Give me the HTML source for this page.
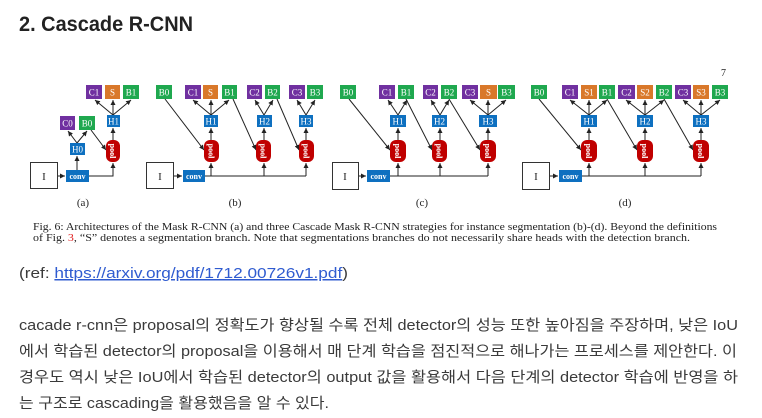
<!DOCTYPE html>
<html><head><meta charset="utf-8">
<style>
html,body{margin:0;padding:0;background:#fff;width:762px;height:418px;overflow:hidden}
svg{display:block}
.b{font-family:"Liberation Serif",serif;font-size:9px;fill:#fff;text-anchor:middle}
.p{font-family:"Liberation Serif",serif;font-size:8px;fill:#fff;text-anchor:middle;font-weight:bold}
.k{font-family:"Liberation Sans","Noto Sans CJK KR",sans-serif;font-size:15px;fill:#3a3a3a}
</style></head><body>
<svg width="762" height="418" viewBox="0 0 762 418" xmlns="http://www.w3.org/2000/svg">
<defs><marker id="a" markerWidth="6" markerHeight="6" refX="5" refY="3" orient="auto" markerUnits="userSpaceOnUse"><path d="M0,0.5 L5,3 L0,5.5z" fill="#222"/></marker></defs>
<text x="19" y="31" font-family="Liberation Sans,sans-serif" font-weight="bold" font-size="21" fill="#222" textLength="174" lengthAdjust="spacingAndGlyphs">2. Cascade R-CNN</text>
<text x="721" y="76" font-family="Liberation Serif,serif" font-size="10" fill="#222">7</text>
<g stroke="#222" stroke-width="1" fill="none" marker-end="url(#a)">
<line x1="57" y1="176" x2="65" y2="176"/>
<polyline points="89,176 113,176 113,163"/>
<line x1="77" y1="170" x2="77" y2="156"/>
<line x1="77" y1="143" x2="68" y2="131"/><line x1="77" y1="143" x2="87" y2="131"/>
<line x1="91" y1="130" x2="106" y2="150"/>
<line x1="113" y1="140" x2="113" y2="128"/>
<line x1="113" y1="115" x2="95" y2="100"/><line x1="113" y1="115" x2="113" y2="100"/><line x1="113" y1="115" x2="131" y2="100"/>
<line x1="173" y1="176" x2="182" y2="176"/>
<line x1="205" y1="176" x2="306" y2="176" marker-end="none"/>
<line x1="211" y1="176" x2="211" y2="163"/><line x1="264" y1="176" x2="264" y2="163"/><line x1="306" y1="176" x2="306" y2="163"/>
<line x1="165" y1="99" x2="204" y2="150"/><line x1="233" y1="99" x2="256" y2="150"/><line x1="277" y1="99" x2="299" y2="150"/>
<line x1="211" y1="140" x2="211" y2="128"/><line x1="264" y1="140" x2="264" y2="128"/><line x1="306" y1="140" x2="306" y2="128"/>
<line x1="211" y1="115" x2="193" y2="100"/><line x1="211" y1="115" x2="211" y2="100"/><line x1="211" y1="115" x2="229" y2="100"/>
<line x1="264" y1="115" x2="255" y2="100"/><line x1="264" y1="115" x2="273" y2="100"/>
<line x1="306" y1="115" x2="297" y2="100"/><line x1="306" y1="115" x2="315" y2="100"/>
<line x1="358" y1="176" x2="366" y2="176"/>
<line x1="390" y1="176" x2="488" y2="176" marker-end="none"/>
<line x1="398" y1="176" x2="398" y2="163"/><line x1="440" y1="176" x2="440" y2="163"/><line x1="488" y1="176" x2="488" y2="163"/>
<line x1="349" y1="99" x2="390" y2="150"/><line x1="406" y1="99" x2="432" y2="150"/><line x1="449" y1="99" x2="480" y2="150"/>
<line x1="398" y1="140" x2="398" y2="128"/><line x1="440" y1="140" x2="440" y2="128"/><line x1="488" y1="140" x2="488" y2="128"/>
<line x1="398" y1="115" x2="388" y2="100"/><line x1="398" y1="115" x2="407" y2="100"/>
<line x1="440" y1="115" x2="431" y2="100"/><line x1="440" y1="115" x2="449" y2="100"/>
<line x1="488" y1="115" x2="470" y2="100"/><line x1="488" y1="115" x2="488" y2="100"/><line x1="488" y1="115" x2="506" y2="100"/>
<line x1="549" y1="176" x2="558" y2="176"/>
<line x1="582" y1="176" x2="701" y2="176" marker-end="none"/>
<line x1="589" y1="176" x2="589" y2="163"/><line x1="645" y1="176" x2="645" y2="163"/><line x1="701" y1="176" x2="701" y2="163"/>
<line x1="539" y1="99" x2="581" y2="150"/><line x1="607" y1="99" x2="637" y2="150"/><line x1="664" y1="99" x2="693" y2="150"/>
<line x1="589" y1="140" x2="589" y2="128"/><line x1="645" y1="140" x2="645" y2="128"/><line x1="701" y1="140" x2="701" y2="128"/>
<line x1="589" y1="115" x2="570" y2="100"/><line x1="589" y1="115" x2="589" y2="100"/><line x1="589" y1="115" x2="607" y2="100"/>
<line x1="645" y1="115" x2="626" y2="100"/><line x1="645" y1="115" x2="645" y2="100"/><line x1="645" y1="115" x2="664" y2="100"/>
<line x1="701" y1="115" x2="683" y2="100"/><line x1="701" y1="115" x2="701" y2="100"/><line x1="701" y1="115" x2="720" y2="100"/>
</g>
<g fill="#fff" stroke="#333" stroke-width="1">
<rect x="30.5" y="162.5" width="27" height="26"/><rect x="146.5" y="162.5" width="27" height="26"/>
<rect x="332.5" y="162.5" width="26" height="27"/><rect x="522.5" y="162.5" width="27" height="27"/>
</g>
<g font-family="Liberation Serif,serif" font-size="11" fill="#222" text-anchor="middle">
<text x="44" y="180">I</text><text x="160" y="180">I</text><text x="345" y="180">I</text><text x="536" y="180">I</text>
<text x="83" y="206">(a)</text><text x="235" y="206">(b)</text><text x="422" y="206">(c)</text><text x="625" y="206">(d)</text>
</g>
<g fill="#0e70c0"><rect x="66" y="170" width="23" height="12"/><rect x="183" y="170" width="22" height="12"/><rect x="367" y="170" width="23" height="12"/><rect x="559" y="170" width="23" height="12"/></g>
<g class="p"><text x="77.5" y="179">conv</text><text x="194" y="179">conv</text><text x="378.5" y="179">conv</text><text x="570.5" y="179">conv</text></g>
<g fill="#c00000">
<rect x="106" y="140" width="14" height="22" rx="6"/>
<rect x="204" y="140" width="15" height="22" rx="6"/><rect x="256" y="140" width="15" height="22" rx="6"/><rect x="299" y="140" width="15" height="22" rx="6"/>
<rect x="390" y="140" width="16" height="22" rx="6"/><rect x="432" y="140" width="15" height="22" rx="6"/><rect x="480" y="140" width="16" height="22" rx="6"/>
<rect x="581" y="140" width="16" height="22" rx="6"/><rect x="637" y="140" width="16" height="22" rx="6"/><rect x="693" y="140" width="16" height="22" rx="6"/>
</g>
<g class="p" font-size="7">
<text transform="translate(110,151) rotate(90)">pool</text>
<text transform="translate(208.5,151) rotate(90)">pool</text><text transform="translate(260.5,151) rotate(90)">pool</text><text transform="translate(303.5,151) rotate(90)">pool</text>
<text transform="translate(395,151) rotate(90)">pool</text><text transform="translate(436.5,151) rotate(90)">pool</text><text transform="translate(485,151) rotate(90)">pool</text>
<text transform="translate(586,151) rotate(90)">pool</text><text transform="translate(642,151) rotate(90)">pool</text><text transform="translate(698,151) rotate(90)">pool</text>
</g>
<g>
<rect x="86" y="85" width="16" height="14" fill="#7030a0"/><rect x="105" y="85" width="15" height="14" fill="#d9782a"/><rect x="123" y="85" width="16" height="14" fill="#1fa84f"/>
<rect x="107" y="115" width="13" height="12" fill="#0e70c0"/>
<rect x="60" y="116" width="15" height="14" fill="#7030a0"/><rect x="79" y="116" width="16" height="14" fill="#1fa84f"/>
<rect x="70" y="143" width="15" height="12" fill="#0e70c0"/>
<rect x="156" y="85" width="16" height="14" fill="#1fa84f"/>
<rect x="185" y="85" width="16" height="14" fill="#7030a0"/><rect x="203" y="85" width="15" height="14" fill="#d9782a"/><rect x="222" y="85" width="15" height="14" fill="#1fa84f"/>
<rect x="247" y="85" width="15" height="14" fill="#7030a0"/><rect x="265" y="85" width="15" height="14" fill="#1fa84f"/>
<rect x="289" y="85" width="16" height="14" fill="#7030a0"/><rect x="307" y="85" width="16" height="14" fill="#1fa84f"/>
<rect x="204" y="115" width="14" height="12" fill="#0e70c0"/><rect x="257" y="115" width="15" height="12" fill="#0e70c0"/><rect x="299" y="115" width="14" height="12" fill="#0e70c0"/>
<rect x="340" y="85" width="16" height="14" fill="#1fa84f"/>
<rect x="379" y="85" width="16" height="14" fill="#7030a0"/><rect x="398" y="85" width="16" height="14" fill="#1fa84f"/>
<rect x="423" y="85" width="15" height="14" fill="#7030a0"/><rect x="441" y="85" width="16" height="14" fill="#1fa84f"/>
<rect x="462" y="85" width="16" height="14" fill="#7030a0"/><rect x="480" y="85" width="17" height="14" fill="#d9782a"/><rect x="498" y="85" width="17" height="14" fill="#1fa84f"/>
<rect x="390" y="115" width="16" height="12" fill="#0e70c0"/><rect x="432" y="115" width="15" height="12" fill="#0e70c0"/><rect x="479" y="115" width="18" height="12" fill="#0e70c0"/>
<rect x="531" y="85" width="16" height="14" fill="#1fa84f"/>
<rect x="562" y="85" width="16" height="14" fill="#7030a0"/><rect x="581" y="85" width="16" height="14" fill="#d9782a"/><rect x="599" y="85" width="16" height="14" fill="#1fa84f"/>
<rect x="618" y="85" width="17" height="14" fill="#7030a0"/><rect x="637" y="85" width="16" height="14" fill="#d9782a"/><rect x="656" y="85" width="16" height="14" fill="#1fa84f"/>
<rect x="675" y="85" width="16" height="14" fill="#7030a0"/><rect x="693" y="85" width="16" height="14" fill="#d9782a"/><rect x="712" y="85" width="16" height="14" fill="#1fa84f"/>
<rect x="581" y="115" width="16" height="12" fill="#0e70c0"/><rect x="637" y="115" width="16" height="12" fill="#0e70c0"/><rect x="693" y="115" width="16" height="12" fill="#0e70c0"/>
</g>
<g class="b">
<text x="94" y="95.5">C1</text><text x="112.5" y="95.5">S</text><text x="131" y="95.5">B1</text>
<text x="113.5" y="124.5">H1</text><text x="67.5" y="126.5">C0</text><text x="87" y="126.5">B0</text><text x="77.5" y="152.5">H0</text>
<text x="164" y="95.5">B0</text><text x="193" y="95.5">C1</text><text x="210.5" y="95.5">S</text><text x="229.5" y="95.5">B1</text>
<text x="254.5" y="95.5">C2</text><text x="272.5" y="95.5">B2</text><text x="297" y="95.5">C3</text><text x="315" y="95.5">B3</text>
<text x="211" y="124.5">H1</text><text x="264.5" y="124.5">H2</text><text x="306" y="124.5">H3</text>
<text x="348" y="95.5">B0</text><text x="387" y="95.5">C1</text><text x="406" y="95.5">B1</text><text x="430.5" y="95.5">C2</text><text x="449" y="95.5">B2</text>
<text x="470" y="95.5">C3</text><text x="488.5" y="95.5">S</text><text x="506.5" y="95.5">B3</text>
<text x="398" y="124.5">H1</text><text x="439.5" y="124.5">H2</text><text x="488" y="124.5">H3</text>
<text x="539" y="95.5">B0</text><text x="570" y="95.5">C1</text><text x="589" y="95.5">S1</text><text x="607" y="95.5">B1</text>
<text x="626.5" y="95.5">C2</text><text x="645" y="95.5">S2</text><text x="664" y="95.5">B2</text>
<text x="683" y="95.5">C3</text><text x="701" y="95.5">S3</text><text x="720" y="95.5">B3</text>
<text x="589" y="124.5">H1</text><text x="645" y="124.5">H2</text><text x="701" y="124.5">H3</text>
</g>
<g font-family="Liberation Serif,serif" font-size="10" fill="#222">
<text x="33" y="230" textLength="684" lengthAdjust="spacingAndGlyphs">Fig. 6: Architectures of the Mask R-CNN (a) and three Cascade Mask R-CNN strategies for instance segmentation (b)-(d). Beyond the definitions</text>
<text x="33" y="241" textLength="657" lengthAdjust="spacingAndGlyphs">of Fig. <tspan fill="#e02020">3</tspan>, “S” denotes a segmentation branch. Note that segmentations branches do not necessarily share heads with the detection branch.</text>
</g>
<text x="19" y="278" class="k" font-size="16" fill="#555" textLength="329" lengthAdjust="spacingAndGlyphs">(ref: <tspan fill="#2f5bd0" text-decoration="underline">https://arxiv.org/pdf/1712.00726v1.pdf</tspan>)</text>
<text x="19" y="330" class="k" textLength="719" lengthAdjust="spacingAndGlyphs">cacade r-cnn은 proposal의 정확도가 향상될 수록 전체 detector의 성능 또한 높아짐을 주장하며, 낮은 IoU</text>
<text x="19" y="356" class="k" textLength="718" lengthAdjust="spacingAndGlyphs">에서 학습된 detector의 proposal을 이용해서 매 단계 학습을 점진적으로 해나가는 프로세스를 제안한다. 이</text>
<text x="19" y="382" class="k" textLength="719" lengthAdjust="spacingAndGlyphs">경우도 역시 낮은 IoU에서 학습된 detector의 output 값을 활용해서 다음 단계의 detector 학습에 반영을 하</text>
<text x="19" y="408" class="k" textLength="310" lengthAdjust="spacingAndGlyphs">는 구조로 cascading을 활용했음을 알 수 있다.</text>
</svg>
</body></html>
